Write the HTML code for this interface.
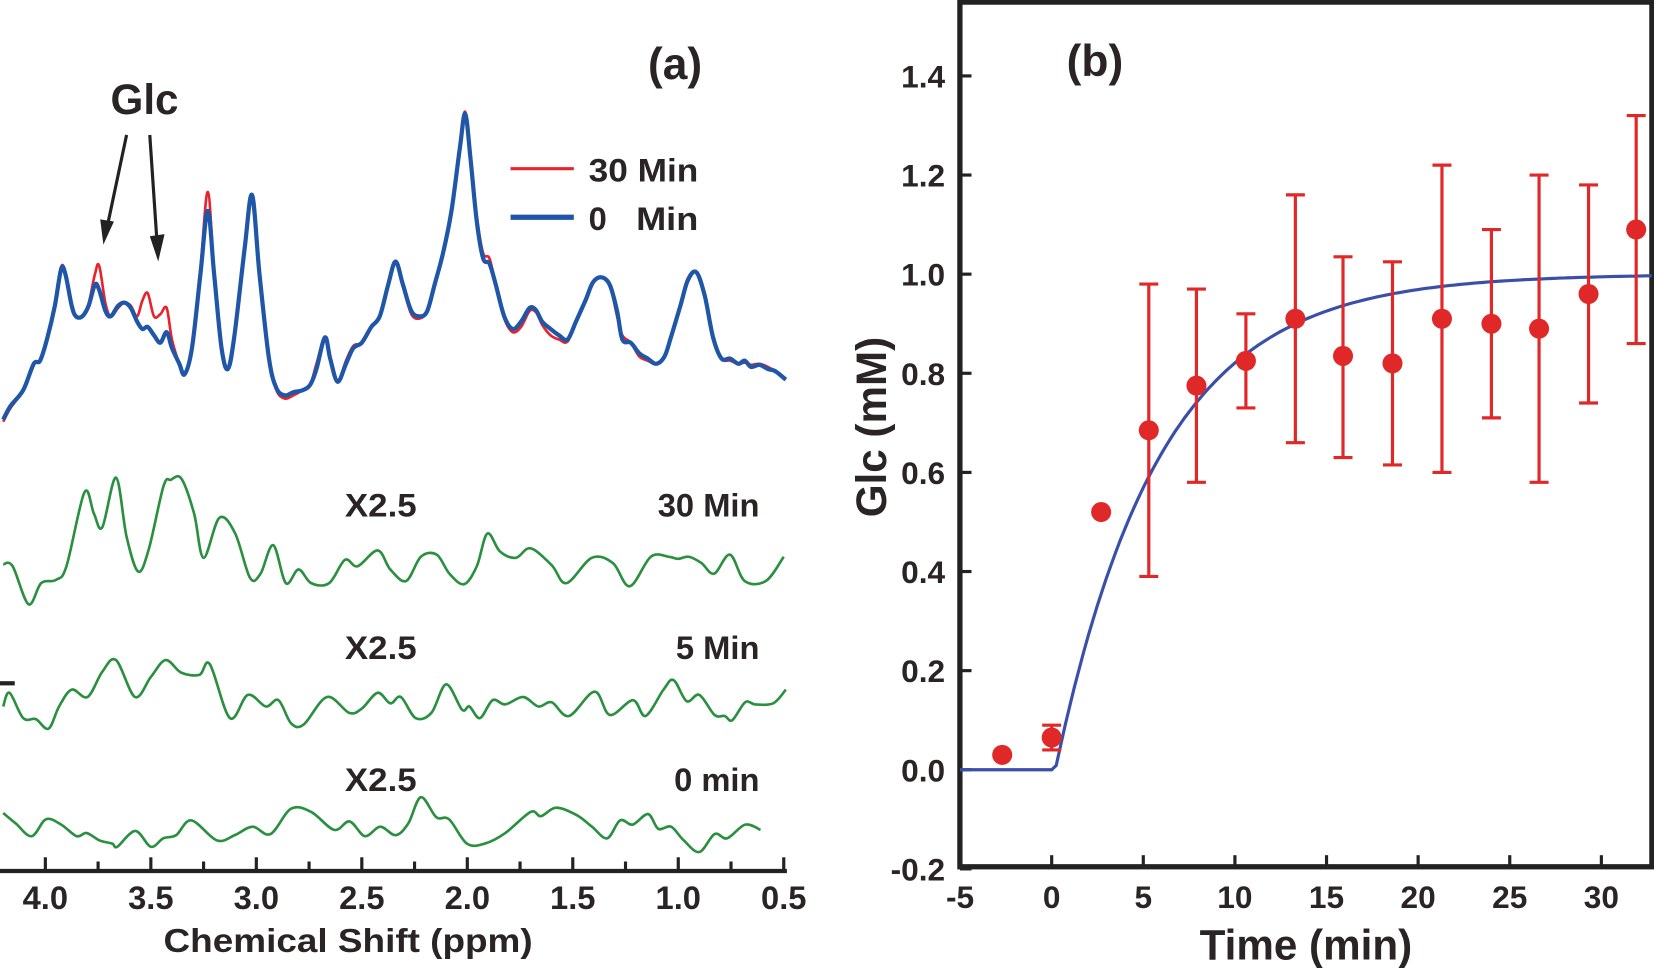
<!DOCTYPE html>
<html><head><meta charset="utf-8"><style>
html,body{margin:0;padding:0;background:#fff}
svg{display:block}
text{font-family:"Liberation Sans",sans-serif;font-weight:bold;fill:#2a2424}
</style></head><body>
<svg id="fig" width="1654" height="968" viewBox="0 0 1568 918" preserveAspectRatio="none">
<g id="pa"></g>
<g id="pb"></g>
</svg>
<script>
// ---------- Panel (a) data ----------
const topPpm=[4.20,4.165,4.105,4.055,4.025,3.99,3.955,3.925,3.905,3.875,3.855,3.825,3.795,3.765,3.745,3.715,3.69,3.655,3.625,3.595,3.565,3.54,3.515,3.485,3.455,3.425,3.40,3.365,3.34,3.305,3.265,3.23,3.20,3.165,3.135,3.105,3.055,3.02,2.985,2.94,2.905,2.865,2.825,2.78,2.745,2.715,2.675,2.65,2.615,2.575,2.54,2.50,2.455,2.415,2.375,2.34,2.305,2.265,2.225,2.19,2.155,2.115,2.075,2.035,2.01,1.985,1.955,1.925,1.895,1.865,1.825,1.785,1.745,1.705,1.675,1.645,1.605,1.565,1.525,1.485,1.44,1.405,1.365,1.325,1.29,1.265,1.225,1.185,1.145,1.105,1.065,1.035,0.99,0.955,0.915,0.875,0.835,0.795,0.755,0.715,0.685,0.655,0.615,0.575,0.54,0.49];
const spec0min=[2,15,30,55,58,80,110,145,140,110,100,100,110,130,125,105,100,110,113,108,95,88,90,82,75,85,70,55,45,70,140,200,140,70,50,80,165,215,140,60,32,25,28,30,35,50,80,60,38,55,70,75,90,100,130,152,130,105,100,105,130,160,200,260,292,250,190,155,150,130,100,88,95,108,106,95,88,82,78,95,115,132,137,130,105,78,75,65,60,55,62,80,110,134,142,120,80,60,60,55,58,52,54,50,48,40];
const spec30min=[0,13,30,55,58,82,112,147,140,110,100,100,112,140,148,112,100,108,113,110,100,115,122,100,102,108,78,55,45,70,145,218,142,70,50,80,165,215,140,60,30,22,25,30,35,55,80,60,38,58,72,75,90,100,130,152,128,102,98,105,130,160,202,262,294,252,195,160,155,130,98,85,90,105,104,92,82,78,76,95,115,132,137,130,100,82,75,62,58,55,62,80,112,136,142,122,82,60,58,55,56,54,55,52,48,40];
const d30Ppm=[4.20,4.155,4.08,4.02,3.95,3.90,3.815,3.77,3.73,3.665,3.615,3.56,3.51,3.44,3.405,3.355,3.295,3.25,3.175,3.10,3.03,2.98,2.92,2.86,2.80,2.74,2.655,2.58,2.52,2.425,2.365,2.29,2.22,2.145,2.085,2.015,1.955,1.905,1.845,1.77,1.70,1.60,1.53,1.41,1.31,1.23,1.13,1.045,1.00,0.95,0.89,0.83,0.755,0.685,0.585,0.50];
const d30Val=[18,16,-20,0,3,16,86,66,53,100,44,11,32,92,98,99,66,24,62,47,5,9,36,0,13,0,0,22,16,31,13,2,25,27,9,-1,16,47,30,24,33,17,0,24,19,-3,25,25,23,25,19,9,27,2,2,25];
const d5Ppm=[4.20,4.17,4.105,4.045,3.985,3.935,3.875,3.80,3.73,3.665,3.575,3.50,3.43,3.355,3.27,3.22,3.125,3.04,2.955,2.895,2.835,2.775,2.665,2.56,2.50,2.425,2.365,2.315,2.245,2.17,2.10,2.025,1.99,1.94,1.88,1.82,1.735,1.663,1.60,1.518,1.397,1.324,1.215,1.155,1.07,1.022,0.96,0.90,0.828,0.78,0.744,0.683,0.635,0.55,0.49];
const d5Val=[0,13,-11,-12,-21,0,16,9,33,44,9,28,44,32,30,40,-11,11,0,6,-16,-17,9,-6,-2,13,3,9,-11,-6,21,-3,0,-11,6,2,9,0,4,-9,14,-8,6,-9,16,25,5,11,-8,-9,-13,4,2,3,16];
const d0Ppm=[4.20,4.14,4.065,3.997,3.925,3.852,3.804,3.743,3.683,3.659,3.574,3.50,3.441,3.38,3.308,3.187,3.102,3.018,2.933,2.836,2.74,2.631,2.558,2.485,2.413,2.34,2.28,2.22,2.147,2.086,2.002,1.917,1.82,1.70,1.651,1.579,1.482,1.409,1.337,1.276,1.216,1.143,1.095,1.034,0.974,0.90,0.828,0.768,0.683,0.61];
const d0Val=[13,3,-9,7,2,-9,-6,-13,-16,-19,-4,-19,-11,-8,6,-13,-8,0,-7,17,14,-3,5,-9,0,-8,3,28,9,7,-16,-16,-6,14,10,18,11,0,-11,6,2,12,-2,0,-13,-24,-7,-11,2,-3];
const ppmTicks=["4.0","3.5","3.0","2.5","2.0","1.5","1.0","0.5"];

// ---------- Panel (b) data ----------
const tVals=[-2.7,0,2.7,5.3,7.9,10.6,13.3,15.9,18.6,21.3,24.0,26.6,29.3,31.9];
const glcVals=[0.03,0.065,0.52,0.685,0.775,0.825,0.91,0.835,0.82,0.91,0.90,0.89,0.96,1.09];
const errHi=[null,0.09,null,0.98,0.97,0.92,1.16,1.035,1.025,1.22,1.09,1.20,1.18,1.32];
const errLo=[null,0.04,null,0.39,0.58,0.73,0.66,0.63,0.615,0.60,0.71,0.58,0.74,0.86];
const fitParams=[0.2,5.7,1.0]; // onset, tau, plateau
const yTicks=["-0.2","0.0","0.2","0.4","0.6","0.8","1.0","1.2","1.4"];
const xTicks=["-5","0","5","10","15","20","25","30"];

const NS="http://www.w3.org/2000/svg";
function mk(parent,tag,attrs,txt){const e=document.createElementNS(NS,tag);for(const k in attrs)e.setAttribute(k,attrs[k]);if(txt!==undefined)e.textContent=txt;parent.appendChild(e);return e;}

// ---- panel a ----
const pa=document.getElementById('pa');
const px=p=>43+(4.0-p)*200;
function smooth(pts){let d='M'+pts[0][0].toFixed(1)+','+pts[0][1].toFixed(1);
 for(let i=0;i<pts.length-1;i++){const p0=pts[Math.max(0,i-1)],p1=pts[i],p2=pts[i+1],p3=pts[Math.min(pts.length-1,i+2)];
  const c1x=p1[0]+(p2[0]-p0[0])/6,c1y=p1[1]+(p2[1]-p0[1])/6,c2x=p2[0]-(p3[0]-p1[0])/6,c2y=p2[1]-(p3[1]-p1[1])/6;
  d+=`C${c1x.toFixed(1)},${c1y.toFixed(1)} ${c2x.toFixed(1)},${c2y.toFixed(1)} ${p2[0].toFixed(1)},${p2[1].toFixed(1)}`;}
 return d;}
function pathFrom(xs,vs,base,scale){return smooth(xs.map((p,i)=>[px(p),base-vs[i]*scale]));}
let e;
e=mk(pa,'path',{d:pathFrom(topPpm,spec30min,400,1),fill:'none',stroke:'#e8232b','stroke-width':2.5,'stroke-linejoin':'round'});


e=mk(pa,'path',{d:pathFrom(topPpm,spec0min,400,1),fill:'none',stroke:'#1f56a8','stroke-width':4,'stroke-linejoin':'round'});


const diffs=[[d30Ppm,d30Val,553,'difference-30-min'],[d5Ppm,d5Val,670,'difference-5-min'],[d0Ppm,d0Val,784,'difference-0-min']];
diffs.forEach(d=>{e=mk(pa,'path',{d:pathFrom(d[0],d[1],d[2],1),fill:'none',stroke:'#2a9040','stroke-width':2.5,'stroke-linejoin':'round'});

});
// axis
e=mk(pa,'line',{x1:0,y1:826,x2:746,y2:826,stroke:'#222','stroke-width':4});


for(let k=0;k<=15;k++){const p=4.0+0.25-k*0.25;if(p<0.5-1e-6)continue;const major=Math.abs(p*2-Math.round(p*2))<1e-6;
 e=mk(pa,'line',{x1:px(p),y1:826,x2:px(p),y2:major?813:817,stroke:'#222','stroke-width':3});
 
 }
ppmTicks.forEach(t=>{e=mk(pa,'text',{x:px(parseFloat(t)),y:862,'font-size':31,'text-anchor':'middle'},t);
 
 });
</script>
<script>
// static labels panel a
(function(){const pa=document.getElementById('pa');const NS="http://www.w3.org/2000/svg";
function mk(tag,attrs,txt){const e=document.createElementNS(NS,tag);for(const k in attrs)e.setAttribute(k,attrs[k]);if(txt!==undefined)e.textContent=txt;pa.appendChild(e);return e;}
let e;
e=mk('text',{x:330,y:903,'font-size':32,'text-anchor':'middle',textLength:350,lengthAdjust:'spacingAndGlyphs'},'Chemical Shift (ppm)');


e=mk('text',{x:640,y:75,'font-size':42,'text-anchor':'middle'},'(a)');


e=mk('text',{x:137,y:108,'font-size':40,'text-anchor':'middle'},'Glc');


e=mk('path',{d:'M120,128 L101,218 M142,128 L149,232',stroke:'#222','stroke-width':3,fill:'none'});


e=mk('path',{d:'M95,208 L98,232 L108,210 Z M142,224 L150,248 L156,222 Z',fill:'#222'});


e=mk('line',{x1:484,y1:160,x2:544,y2:160,stroke:'#e8232b','stroke-width':3});


e=mk('text',{x:558,y:172,'font-size':31,textLength:104,lengthAdjust:'spacingAndGlyphs'},'30 Min');


e=mk('line',{x1:484,y1:206,x2:544,y2:206,stroke:'#1f56a8','stroke-width':5});


e=mk('text',{x:558,y:218,'font-size':31},'0');


e=mk('text',{x:603,y:218,'font-size':31,textLength:59,lengthAdjust:'spacingAndGlyphs'},'Min');


[[490,'30 Min'],[625,'5 Min'],[750,'0 min']].forEach(r=>{
 e=mk('text',{x:327,y:r[0],'font-size':31,textLength:68,lengthAdjust:'spacingAndGlyphs'},'X2.5');
 
 
 e=mk('text',{x:720,y:r[0],'font-size':31,'text-anchor':'end'},r[1]);
 
 });
e=mk('line',{x1:0,y1:648,x2:14,y2:648,stroke:'#222','stroke-width':4});


})();
</script>
<script>
// ---- panel b ----
(function(){const pb=document.getElementById('pb');const NS="http://www.w3.org/2000/svg";
function mk(tag,attrs,txt){const e=document.createElementNS(NS,tag);for(const k in attrs)e.setAttribute(k,attrs[k]);if(txt!==undefined)e.textContent=txt;pb.appendChild(e);return e;}
const X=t=>997+t*17.37, Y=v=>730-v*470;
let e;
e=mk('rect',{x:910,y:2,width:656,height:820,fill:'none',stroke:'#222','stroke-width':5});


yTicks.forEach(t=>{const v=parseFloat(t);
 e=mk('line',{x1:910,y1:Y(v),x2:921,y2:Y(v),stroke:'#222','stroke-width':3});
 
 
 e=mk('text',{x:896,y:Y(v)+11,'font-size':30,'text-anchor':'end'},t);
 
 });
xTicks.forEach(t=>{const v=parseFloat(t);
 if(v>-5){e=mk('line',{x1:X(v),y1:822,x2:X(v),y2:811,stroke:'#222','stroke-width':3});
 
 }
 e=mk('text',{x:X(v),y:861,'font-size':30,'text-anchor':'middle'},t);
 
 });
e=mk('text',{x:1238,y:910,'font-size':40,'text-anchor':'middle'},'Time (min)');


e=mk('text',{x:0,y:0,'font-size':40,'text-anchor':'middle',transform:'translate(840,405) rotate(-90)'},'Glc (mM)');


e=mk('text',{x:1038,y:72,'font-size':42,'text-anchor':'middle'},'(b)');


// fit curve
let d='';const t0=fitParams[0],tau=fitParams[1],A=fitParams[2];
for(let t=-5;t<=32.75;t+=0.25){const v=t<t0?0:A*(1-Math.exp(-(t-t0)/tau));d+=(d?'L':'M')+X(t).toFixed(1)+','+Y(v).toFixed(1);}
e=mk('path',{d:d,fill:'none',stroke:'#3a4fa8','stroke-width':3});


tVals.forEach((t,i)=>{
 if(errHi[i]!==null){
  e=mk('path',{d:`M${X(t)},${Y(errHi[i])}V${Y(errLo[i])}M${X(t)-9},${Y(errHi[i])}h18M${X(t)-9},${Y(errLo[i])}h18`,stroke:'#e02828','stroke-width':3,fill:'none'});
  
  }
 e=mk('circle',{cx:X(t),cy:Y(glcVals[i]),r:9.5,fill:'#e02828'});
 
 });
})();
</script>
</body></html>
